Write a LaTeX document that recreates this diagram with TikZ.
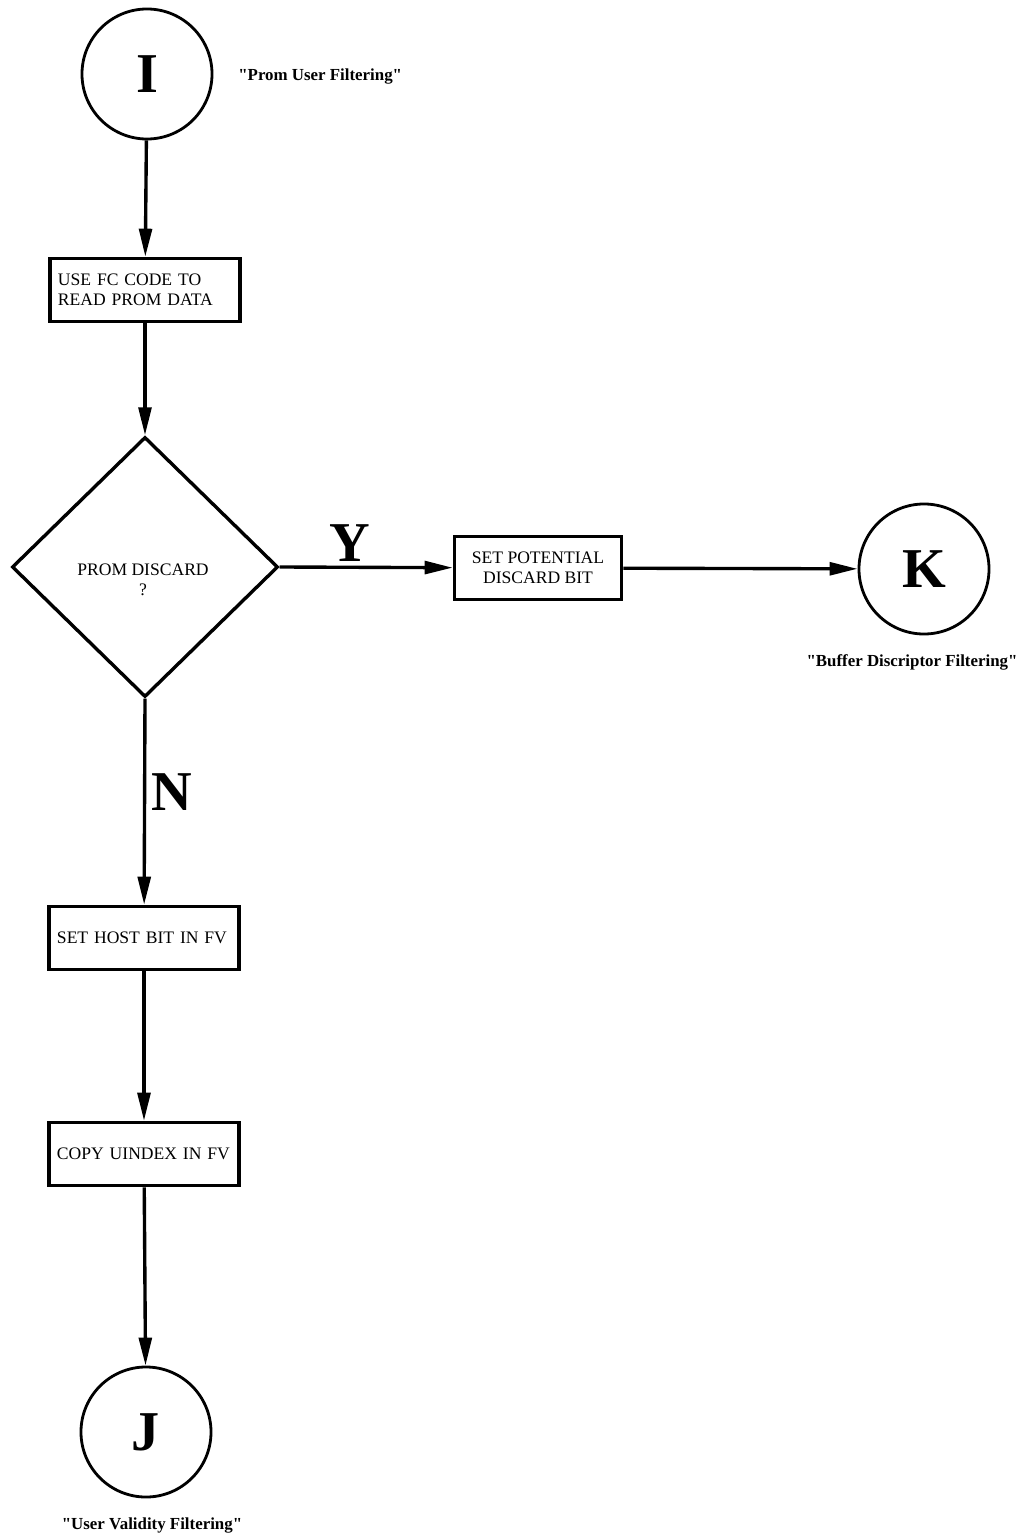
\documentclass[tikz,border=0pt]{standalone}
\usepackage{fontspec}
\setmainfont{Liberation Serif}[Ligatures=TeXOff]
\usetikzlibrary{arrows.meta,shapes.geometric}
\begin{document}
\begin{tikzpicture}[x=0.025cm, y=-0.025cm, line width=2.4pt,
  every node/.append style={font=\fontsize{12.5}{14}\selectfont},
  conn/.style={-{Triangle[length=7mm,width=3.2mm]}},
  term/.style={circle, draw, line width=2pt, minimum size=3.25cm, inner sep=0pt, font=\fontsize{40}{40}\selectfont\bfseries},
  stepbox/.style={rectangle, draw, minimum width=4.75cm, minimum height=1.58cm, inner xsep=0.2cm, text width=4.35cm, align=left},
  note/.style={font=\fontsize{12}{14}\selectfont\bfseries},
  branch/.style={font=\fontsize{40}{40}\selectfont\bfseries}]
  \useasboundingbox (0,0) rectangle (1023,1538);
  % main column
  \node (startI) [term] at (147,74) {I};
  \node (labI) [note, anchor=west] at (232,77) {"Prom User Filtering"};
  \node (readprom) [stepbox] at (145,290) {USE FC CODE TO\\READ PROM DATA};
  \node (disc) [diamond, draw, minimum width=6.65cm, minimum height=6.5cm, inner sep=0pt] at (145,567) {};
  \node (discq) [align=center] at (143,580) {PROM DISCARD\\?};
  \node (sethost) [stepbox] at (144,938) {SET HOST BIT IN FV};
  \node (copyidx) [stepbox] at (144,1154) {COPY UINDEX IN FV};
  \node (endJ) [term] at (146,1432) {J};
  \node (labJ) [note] at (152,1525) {"User Validity Filtering"};
  % yes branch
  \node (setpot) [rectangle, draw, minimum width=4.18cm, minimum height=1.58cm, align=center] at (538,568) {SET POTENTIAL\\DISCARD BIT};
  \node (endK) [term] at (924,569) {K};
  \node (labK) [note] at (912,662) {"Buffer Discriptor Filtering"};
  \node (ylab) [branch] at (350,543) {Y};
  \node (nlab) [branch] at (172,792) {N};
  % connectors
  \draw[conn] (startI) -- (readprom);
  \draw[conn] (readprom) -- (disc.north);
  \draw[conn] (disc.south) -- (sethost);
  \draw[conn] (sethost) -- (copyidx);
  \draw[conn] (copyidx) -- (endJ);
  \draw[conn] (disc.east) -- (setpot);
  \draw[conn] (setpot) -- (endK);
\end{tikzpicture}
\end{document}
